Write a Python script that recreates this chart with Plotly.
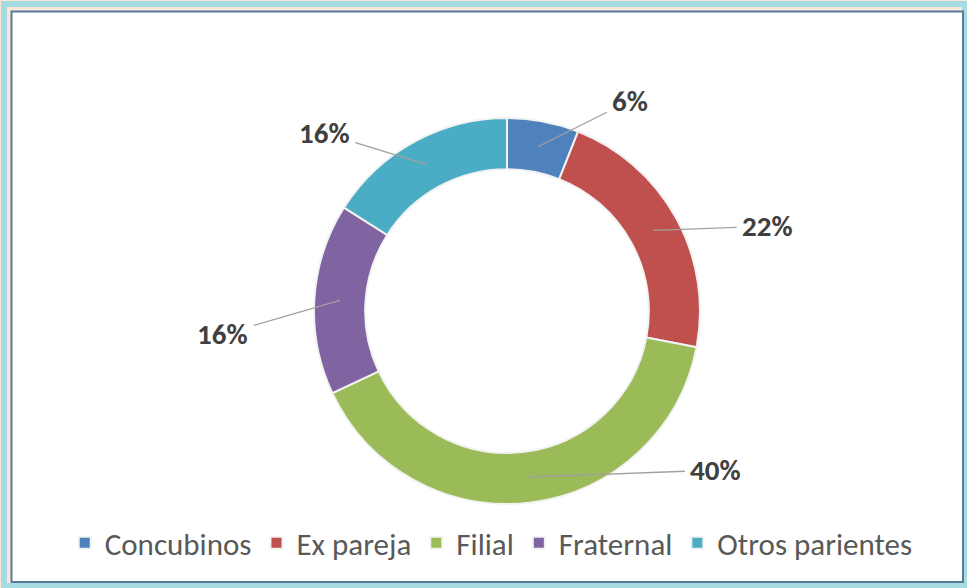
import math
import plotly.graph_objects as go

# ---- data ----
categories = ["Concubinos", "Ex pareja", "Filial", "Fraternal", "Otros parientes"]
values = [6, 22, 40, 16, 16]
colors = ["#4f81bd", "#c0504d", "#9bbb59", "#8064a2", "#4bacc6"]
# label offsets (pixels) from slice midpoint -> label, styling only
label_dx = [92, 114, 188, -117, -102]
label_dy = [-46, -4, -7, 34, -31]

W, H = 967, 588
cx, cy, R = 507, 311, 193   # pie centre / radius in pixels
HOLE = 0.735

fig = go.Figure()
fig.add_trace(go.Pie(
    labels=categories,
    values=values,
    marker=dict(colors=colors, line=dict(color="#f2f2f2", width=2)),
    hole=HOLE,
    sort=False,
    direction="clockwise",
    rotation=0,
    textinfo="none",
    hoverinfo="label+percent",
    domain=dict(x=[(cx - R) / W, (cx + R) / W],
                y=[(H - cy - R) / H, (H - cy + R) / H]),
))

# percentage labels with leader lines, positioned from the data
total = sum(values)
cum = 0
annotations = []
rmid = R * (1 + HOLE) / 2
for i, v in enumerate(values):
    mid = (cum + v / 2) / total * 2 * math.pi
    cum += v
    px = cx + rmid * math.sin(mid)
    py = cy - rmid * math.cos(mid)
    pct = round(v / total * 100)
    annotations.append(dict(
        x=px / W, y=(H - py) / H, xref="paper", yref="paper",
        text=f"<b>{pct}%</b>",
        showarrow=True, arrowhead=0, arrowwidth=1.3, arrowcolor="#a0a0a0",
        ax=label_dx[i], ay=label_dy[i], borderpad=5,
        font=dict(family="Carlito, Lato, sans-serif", size=29, color="#404040"),
    ))

shapes = [
    # outer glow band
    dict(type="rect", xref="paper", yref="paper", x0=4 / W, x1=965 / W,
         y0=1 - 586 / H, y1=1 - 4 / H, line=dict(color="#a6dbe2", width=6),
         fillcolor="rgba(0,0,0,0)", layer="below"),
    # inner frame
    dict(type="rect", xref="paper", yref="paper", x0=11.5 / W, x1=963 / W,
         y0=1 - 582 / H, y1=1 - 11.5 / H, line=dict(color="#5b7a99", width=2),
         fillcolor="white", layer="below"),
]

fig.update_layout(
    width=W, height=H,
    margin=dict(l=0, r=0, t=0, b=0),
    paper_bgcolor="#fbe6da",
    plot_bgcolor="white",
    shapes=shapes,
    annotations=annotations,
    showlegend=True,
    legend=dict(
        orientation="h", x=0.508, xanchor="center", y=1 - 543 / H, yanchor="middle",
        font=dict(family="Carlito, Lato, sans-serif", size=31, color="#595959"),
        itemwidth=30, tracegroupgap=0, bgcolor="rgba(0,0,0,0)",
    ),
)

fig.write_html("out.html",
               config={"displayModeBar": False},
               post_script="document.body.style.margin='0';document.body.style.overflow='hidden';")
